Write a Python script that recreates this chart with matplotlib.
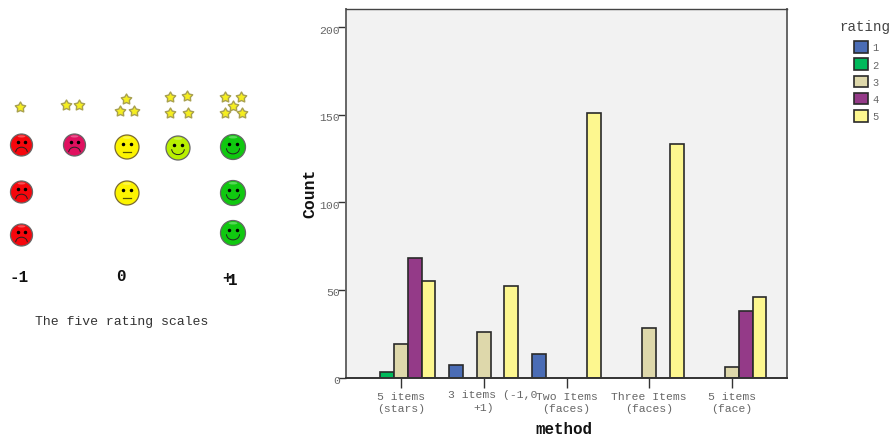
import numpy as np
import matplotlib
matplotlib.use('Agg')
import matplotlib.pyplot as plt
from matplotlib.patches import Circle, Arc, Ellipse
from matplotlib.path import Path
from matplotlib.transforms import ScaledTranslation

plt.rcParams['font.family'] = ['Liberation Mono', 'DejaVu Sans Mono']

W, H = 893, 439

# Dati del grafico a barre
methods = ['5 items\n(stars)', '', 'Two Items\n(faces)', 'Three Items\n(faces)', '5 items\n(face)']
ratings = ['1', '2', '3', '4', '5']
rating1 = [0, 7, 13.5, 0, 0]
rating2 = [3, 0, 0, 0, 0]
rating3 = [19, 26, 0, 28, 6]
rating4 = [68, 0, 0, 0, 38]
rating5 = [55, 52.5, 151, 133.5, 46]
series = [rating1, rating2, rating3, rating4, rating5]
colors = ['#4a6cb5', '#00b95b', '#ded8ab', '#943a88', '#fdf78f']
yticks = [0, 50, 100, 150, 200]

# Icone del pannello di sinistra (pixel dell'immagine)
stars_x = [20, 66, 79, 126, 120, 134, 170, 187, 170, 188, 225, 241, 233, 225, 241.5]
stars_y = [108, 106, 106, 100, 112, 112, 97.5, 97, 113.5, 113.5, 98, 98, 107, 114, 114]
# x, y, raggio, colore, umore
faces = [
    (21.5, 146, 11, '#f5060c', -1), (21.5, 193, 11, '#f5060c', -1), (21.5, 236, 11, '#f5060c', -1),
    (74.5, 146, 11, '#e0105f', -1),
    (127, 148, 12, '#fcf400', 0), (127, 194, 12, '#fcf400', 0),
    (178, 149, 12, '#b8f000', 1),
    (233, 148, 12.5, '#10c810', 1), (233, 194, 12.5, '#10c810', 1), (233, 234, 12.5, '#10c810', 1),
]

fig = plt.figure(figsize=(W / 100, H / 100), dpi=100)

# Pannello sinistro in coordinate pixel
ax0 = fig.add_axes([0, 0, 1, 1])
ax0.set_xlim(0, W)
ax0.set_ylim(H, 0)
ax0.axis('off')

fat_star = Path.unit_regular_star(5, innerCircle=0.55)
ax0.scatter(stars_x, stars_y, marker=fat_star, s=62, color='#f5ee20', edgecolors='#a8a050', linewidths=1)

for x, y, r, col, mood in faces:
    edge = '#7a6a30' if mood == 0 else '#666666'
    ax0.add_patch(Circle((x, y), r, facecolor=col, edgecolor=edge, lw=0.9))
    ax0.add_patch(Ellipse((x, y - r * 0.78), r * 0.7, r * 0.2, facecolor='white', edgecolor='none', alpha=0.3))
    ax0.plot([x - r * 0.3, x + r * 0.3], [y - r * 0.25, y - r * 0.25], ls='none', marker='o', ms=1.5, color='black')
    if mood < 0:
        ax0.add_patch(Arc((x, y + r * 0.65), r * 1.05, r * 0.9, theta1=180, theta2=360, lw=0.7, color='#222222'))
    elif mood == 0:
        ax0.plot([x - r * 0.32, x + r * 0.32], [y + r * 0.38, y + r * 0.38], lw=0.9, color='#555500')
    else:
        ax0.add_patch(Arc((x, y + r * 0.1), r * 1.05, r * 0.9, theta1=0, theta2=180, lw=0.7, color='#222222'))

ax0.text(19, 278, '-1', fontsize=11.5, fontweight='bold', ha='center', va='center', color='#111111')
ax0.text(121, 277, '0', fontsize=11.5, fontweight='bold', ha='center', va='center', color='#111111')
ax0.text(227, 279, '+', fontsize=11.5, fontweight='bold', ha='center', va='center', color='#111111')
ax0.text(233, 281, '1', fontsize=11.5, fontweight='bold', ha='center', va='center', color='#111111')
ax0.text(122, 322, 'The five rating scales', fontsize=9.45, ha='center', va='center', color='#333333')

# Grafico a barre
left, right, top, bottom = 346, 787, 10, 378.5
ax = fig.add_axes([left / W, (H - bottom) / H, (right - left) / W, (bottom - top) / H])
ax.set_facecolor('#f2f2f2')
pos = np.arange(len(methods))
bw = 0.166
for i, (vals, col, lab) in enumerate(zip(series, colors, ratings)):
    vals = np.array(vals, dtype=float)
    keep = vals > 0
    ax.bar(pos[keep] + (i - 2) * bw, vals[keep], bw, color=col, edgecolor='#2a2a2a', lw=1.2, label=lab)

ax.set_xlim(-0.665, 4.665)
ax.set_ylim(0, 210.3)
ax.set_xticks(pos)
ax.set_xticklabels(methods, fontsize=8.2, color='#666666', linespacing=1.15)
ax.set_yticks(yticks)
ax.tick_params(axis='y', labelsize=8.2, labelcolor='#666666', length=6, width=1, color='#333333', pad=-1.5)
ax.tick_params(axis='x', length=7, width=1, color='#333333', pad=3)
shift = ScaledTranslation(0, -1.5 / 100, fig.dpi_scale_trans)
for lab in ax.get_yticklabels():
    lab.set_transform(lab.get_transform() + shift)
for side in ['left', 'bottom', 'right']:
    ax.spines[side].set_color('#666666')
    ax.spines[side].set_linewidth(1.4)
ax.spines['bottom'].set_color('#333333')
ax.spines['top'].set_color('#444444')
ax.spines['top'].set_linewidth(1)

# Etichetta sovrapposta del secondo gruppo
ax0.text(493, 395, '3 items (-1,0', fontsize=8.2, color='#666666', ha='center', va='center', zorder=5)
ax0.text(484, 408, '+1)', fontsize=8.2, color='#666666', ha='center', va='center', zorder=5)

ax0.text(310, 193, 'Count', fontsize=11.8, fontweight='bold', rotation=90, ha='center', va='center', color='#111111')
ax0.text(564, 430, 'method', fontsize=11.4, fontweight='bold', ha='center', va='center', color='#111111')

ax0.text(864.5, 27, 'rating', fontsize=10.2, ha='center', va='center', color='#444444')
leg = fig.legend(*ax.get_legend_handles_labels(), loc='upper left',
                 bbox_to_anchor=(854 / W, (H - 42) / H), frameon=False, fontsize=7.5,
                 handlelength=1.34, handleheight=1.34, labelspacing=0.54,
                 handletextpad=0.42, borderpad=0, borderaxespad=0)
for t in leg.get_texts():
    t.set_color('#666666')

fig.savefig('out.png', dpi=100)
